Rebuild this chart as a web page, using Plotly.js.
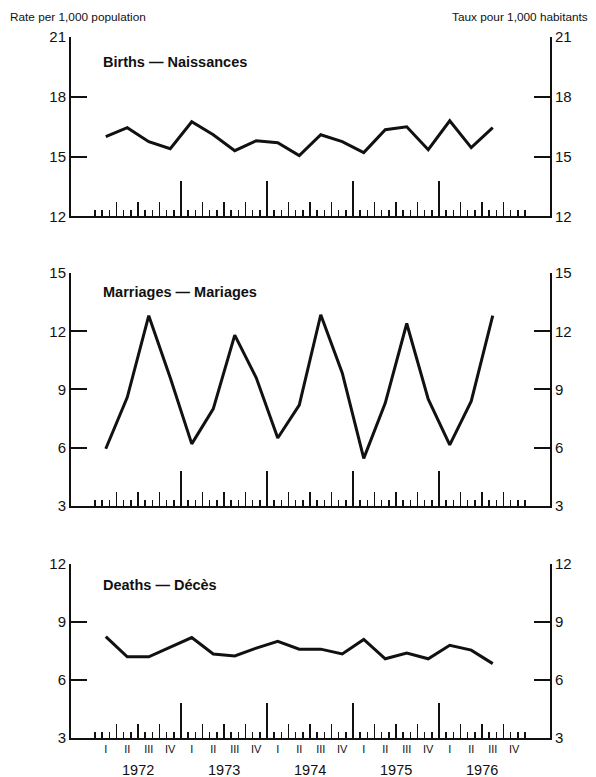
<!DOCTYPE html>
<html>
<head>
<meta charset="utf-8">
<script src="https://cdn.plot.ly/plotly-3.0.1.min.js"></script>
<style>html,body{margin:0;padding:0;background:#fff;}#chart{width:596px;height:777px;}</style>
</head>
<body>
<div id="chart"></div>
<script>
// ---- data (quarterly rates per 1,000 population, 1972 Q1 – 1976 Q3) ----
const years = [1972, 1973, 1974, 1975, 1976];
const quarterLabels = ["I", "II", "III", "IV"];
const births    = [16.0, 16.45, 15.75, 15.4, 16.75, 16.1, 15.3, 15.8, 15.7, 15.05, 16.1, 15.75, 15.2, 16.35, 16.5, 15.35, 16.8, 15.45, 16.45];
const marriages = [5.95, 8.6, 12.8, 9.6, 6.2, 8.0, 11.8, 9.6, 6.5, 8.2, 12.85, 9.85, 5.45, 8.3, 12.4, 8.5, 6.15, 8.4, 12.8];
const deaths    = [8.25, 7.2, 7.2, 7.7, 8.2, 7.35, 7.25, 7.65, 8.0, 7.6, 7.6, 7.35, 8.1, 7.1, 7.4, 7.1, 7.8, 7.55, 6.85];
const panelTitles = ["Births \u2014 Naissances", "Marriages \u2014 Mariages", "Deaths \u2014 Décès"];
const yRanges = [[12, 21], [3, 15], [3, 12]];
const leftTitle = "Rate per 1,000 population";
const rightTitle = "Taux pour 1,000 habitants";

// ---- derived positions (months since Jan 1972) ----
const nMonths = years.length * 12;
const qx = births.map((_, i) => i * 3 + 1.5);
const monthTicks = [];
for (let m = 0; m <= nMonths; m++) monthTicks.push(m);
const quarterTicks = [];
for (let m = 3; m < nMonths; m += 3) if (m % 12 !== 0) quarterTicks.push(m);
const yearTicks = years.slice(1).map(y => (y - years[0]) * 12);
const qCenters = [], qText = [];
years.forEach((y, yi) => quarterLabels.forEach((q, qi) => { qCenters.push(yi * 12 + qi * 3 + 1.5); qText.push(q); }));

const FONT = "Liberation Sans, Arial, Helvetica, sans-serif";
const xRange = [-3.35, 63.49];
const domains = [[0.744, 1.0], [0.331, 0.6633], [0.0, 0.248]];
const series = [births, marriages, deaths];

const data = [];
const layout = {
  width: 596, height: 777,
  margin: {l: 71, r: 46, t: 37, b: 39},
  paper_bgcolor: "#fff", plot_bgcolor: "#fff",
  showlegend: false,
  font: {family: FONT, color: "#111", size: 14},
  annotations: [],
};

for (let p = 0; p < 3; p++) {
  const xi = p + 1, xo = p + 4, yl = p + 1, yr = p + 4;
  const xn = xi === 1 ? "xaxis" : "xaxis" + xi;
  const yn = yl === 1 ? "yaxis" : "yaxis" + yl;
  const xid = xi === 1 ? "x" : "x" + xi;
  const yid = yl === 1 ? "y" : "y" + yl;
  const last = p === 2;
  layout[xn] = {
    domain: [0, 1], anchor: yid, range: xRange, fixedrange: true,
    showgrid: false, zeroline: false,
    showline: true, linecolor: "#111", linewidth: 2,
    tickmode: "array", tickvals: qCenters, ticktext: qText,
    ticks: "", showticklabels: last,
    tickfont: {family: FONT, size: 11, color: "#111"},
    minor: {tickmode: "array", tickvals: monthTicks, ticks: "inside", ticklen: 6, tickwidth: 1.5, tickcolor: "#111", showgrid: false},
  };
  layout["xaxis" + xo] = {
    overlaying: xid, anchor: yid, range: xRange, fixedrange: true,
    showgrid: false, zeroline: false, showline: false, showticklabels: false,
    tickmode: "array", tickvals: yearTicks,
    ticks: "inside", ticklen: 35, tickwidth: 1.5, tickcolor: "#111",
    minor: {tickmode: "array", tickvals: quarterTicks, ticks: "inside", ticklen: 14, tickwidth: 1.5, tickcolor: "#111", showgrid: false},
  };
  const yCommon = {
    range: yRanges[p], dtick: 3, tick0: 0, tickmode: "linear", fixedrange: true,
    showgrid: false, zeroline: false,
    showline: true, linecolor: "#111", linewidth: 2,
    ticks: "inside", ticklen: 16, tickwidth: 2, tickcolor: "#111",
    tickfont: {family: FONT, size: 15, color: "#111"},
  };
  layout[yn] = Object.assign({domain: domains[p], anchor: xid, side: "left"}, yCommon);
  layout["yaxis" + yr] = Object.assign({overlaying: yid, anchor: xid, side: "right"}, yCommon);

  data.push({
    type: "scatter", mode: "lines", x: qx, y: series[p],
    xaxis: xid, yaxis: yid,
    line: {color: "#111", width: 3}, hoverinfo: "skip",
  });
  data.push({type: "scatter", mode: "lines", x: [], y: [], xaxis: "x" + xo, yaxis: yid, hoverinfo: "skip"});
  data.push({type: "scatter", mode: "lines", x: [], y: [], xaxis: xid, yaxis: "y" + yr, hoverinfo: "skip"});

  layout.annotations.push({
    text: "<b>" + panelTitles[p] + "</b>", xref: xid + " domain", yref: yid + " domain",
    x: 0.0626, y: [0.86, 0.92, 0.88][p], xanchor: "left", yanchor: "middle",
    showarrow: false, font: {family: FONT, size: 14.5, color: "#111"},
  });
}

years.forEach((y, yi) => {
  layout.annotations.push({
    text: String(y), xref: "x3", yref: "paper", x: yi * 12 + 6, y: -0.046,
    xanchor: "center", yanchor: "middle", showarrow: false,
    font: {family: FONT, size: 14.5, color: "#111"},
  });
});
layout.annotations.push({
  text: leftTitle, xref: "paper", yref: "paper", x: -0.1315, y: 1.0285,
  xanchor: "left", yanchor: "middle", showarrow: false, font: {family: FONT, size: 11.8, color: "#111"},
});
layout.annotations.push({
  text: rightTitle, xref: "paper", yref: "paper", x: 1.0835, y: 1.0285,
  xanchor: "right", yanchor: "middle", showarrow: false, font: {family: FONT, size: 11.8, color: "#111"},
});

Plotly.newPlot("chart", data, layout, {staticPlot: true, displayModeBar: false});
</script>
</body>
</html>
